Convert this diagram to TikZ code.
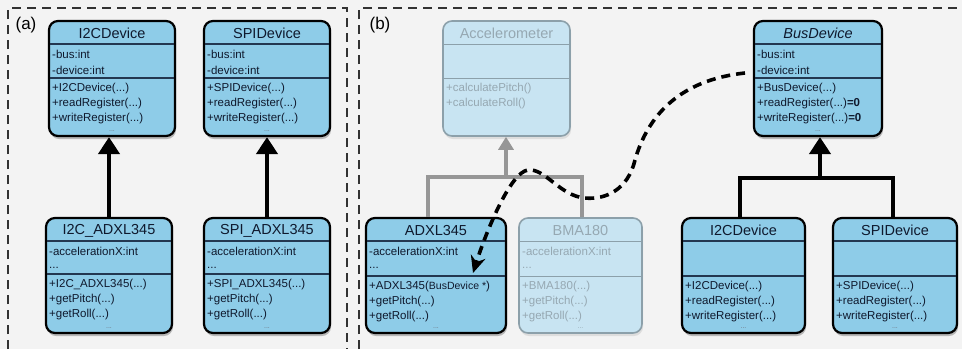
\documentclass[tikz,border=0pt]{standalone}
\usepackage{fontspec}
\setmainfont{Liberation Sans}
\usetikzlibrary{arrows.meta,shadows,fit}
\definecolor{bgcol}{RGB}{243,243,243}
\definecolor{boxblue}{RGB}{142,204,232}
\definecolor{fadeblue}{RGB}{200,228,242}
\definecolor{fadeedge}{RGB}{140,160,170}
\definecolor{fadetxt}{RGB}{150,168,178}
\definecolor{sepcol}{RGB}{35,55,80}
\definecolor{txtcol}{RGB}{15,25,45}
\definecolor{framecol}{RGB}{50,50,50}
\definecolor{graylink}{RGB}{150,150,150}
\newcommand\dd{.\kern0pt.\kern0pt.}
\tikzset{
 box/.style={draw=black, line width=2.2pt, rounded corners=9pt, fill=boxblue, inner sep=0pt,
   drop shadow={shadow xshift=1pt, shadow yshift=-3pt, opacity=0.35, fill=black!70}},
 sepline/.style={draw=sepcol, line width=1.3pt},
 titletext/.style={font=\fontsize{14.5}{16}\selectfont, text=txtcol, inner sep=0pt},
 linetext/.style={font=\fontsize{11.5}{13}\selectfont, text=txtcol, anchor=west, inner sep=0pt},
 dotstext/.style={font=\fontsize{7}{8}\selectfont, text=txtcol!60, inner sep=0pt},
 lbl/.style={font=\fontsize{17}{19}\selectfont, text=black, inner sep=0pt},
 frame/.style={draw=framecol, line width=1.8pt, dash pattern=on 9pt off 6pt},
 blacklink/.style={draw=black, line width=4.5pt, -{Triangle[length=17pt,width=21pt]}},
 blackbar/.style={draw=black, line width=4.5pt},
 graylinkarrow/.style={draw=graylink, line width=4.5pt, -{Triangle[length=13pt,width=15pt]}},
 graybar/.style={draw=graylink, line width=4.5pt},
 dep/.style={draw=black, line width=3.6pt, dash pattern=on 9pt off 6pt, -{Stealth[length=17pt,width=15pt]}},
}
% #1 name, #2 x1, #3 y1, #4 x2, #5 y2, #6 separator y, #7 title, #8 attributes, #9 methods
\newcommand\umlclass[9]{%
  \coordinate (#1-nw) at (#2,#3);
  \coordinate (#1-se) at (#4,#5);
  \node[box, fit=(#1-nw)(#1-se)] (#1) {};
  \node[titletext] (#1-t) at ({(#2+#4)/2},{#3+12.5}) {#7};
  \draw[sepline] ({#2+1},{#3+23}) -- ({#4-1},{#3+23});
  \draw[sepline] ({#2+1},#6) -- ({#4-1},#6);
  \if\relax\detokenize{#8}\relax\else
  \foreach \txt [count=\i] in {#8} {\node[linetext] (#1-a\i) at ({#2+3},{#3+33+(\i-1)*16.5}) {\txt};}
  \fi
  \foreach \txt [count=\i] in {#9} {\node[linetext] (#1-m\i) at ({#2+3},{#6+11+(\i-1)*14.6}) {\txt};}
}
\newcommand\umldots[1]{\node[dotstext, anchor=south] (#1-d) at ([yshift=5pt]#1.south) {\dd};}
\begin{document}
\begin{tikzpicture}[x=1pt,y=-1pt]
\fill[bgcol] (0,0) rectangle (962,349);
\useasboundingbox (0,0) rectangle (962,349);
% frames
\draw[frame] (8,349) -- (8,8) -- (347,8) -- (347,349);
\draw[frame] (359,349) -- (359,8) -- (962,8);
\node[lbl] (la) at (26,25) {(a)};
\node[lbl] (lb) at (380,25) {(b)};

% ---------- panel (a)
\umlclass{ai2c}{49}{21}{175}{136}{78}{I2CDevice}{{-bus:int},{-device:int}}{{+I2CDevice(\dd)},{+readRegister(\dd)},{+writeRegister(\dd)}}
\umldots{ai2c}
\umlclass{aspi}{204}{21}{330}{136}{78}{SPIDevice}{{-bus:int},{-device:int}}{{+SPIDevice(\dd)},{+readRegister(\dd)},{+writeRegister(\dd)}}
\umldots{aspi}
\umlclass{aiadxl}{46}{218}{172}{333}{274}{I2C\_ADXL345}{{-accelerationX:int},{\dd}}{{+I2C\_ADXL345(\dd)},{+getPitch(\dd)},{+getRoll(\dd)}}
\umldots{aiadxl}
\umlclass{asadxl}{204}{218}{330}{333}{274}{SPI\_ADXL345}{{-accelerationX:int},{\dd}}{{+SPI\_ADXL345(\dd)},{+getPitch(\dd)},{+getRoll(\dd)}}
\umldots{asadxl}
\draw[blacklink] (aiadxl.north) -- (aiadxl.north |- ai2c.south);
\draw[blacklink] (asadxl.north) -- (asadxl.north |- aspi.south);

% ---------- panel (b)
\begin{scope}[box/.style={draw=fadeedge, line width=1.6pt, rounded corners=9pt, fill=fadeblue, inner sep=0pt,
   drop shadow={shadow xshift=1pt, shadow yshift=-3pt, opacity=0.15, fill=black!60}},
  sepline/.style={draw=fadeedge, line width=1pt},
  titletext/.append style={text=fadetxt},
  linetext/.append style={text=fadetxt},
  dotstext/.append style={text=fadetxt}]
\umlclass{accel}{443}{21}{570}{136}{78}{Accelerometer}{}{{+calculatePitch()},{+calculateRoll()}}
\umlclass{bma}{519}{218}{642}{333}{276}{BMA180}{{-accelerationX:int},{\dd}}{{+BMA180(\dd)},{+getPitch(\dd)},{+getRoll(\dd)}}
\umldots{bma}
\end{scope}
\umlclass{busdev}{754}{21}{882}{136}{78}{\textit{BusDevice}}{{-bus:int},{-device:int}}{{+BusDevice(\dd)},{+readRegister(\dd)\textbf{=0}},{+writeRegister(\dd)\textbf{=0}}}
\umldots{busdev}
\umlclass{adxl}{366}{218}{506}{333}{276}{ADXL345}{{-accelerationX:int},{\dd}}{{+ADXL345({\fontsize{10.5}{12}\selectfont BusDevice *})},{+getPitch(\dd)},{+getRoll(\dd)}}
\umldots{adxl}
\umlclass{bi2c}{682}{218}{805}{333}{276}{I2CDevice}{}{{+I2CDevice(\dd)},{+readRegister(\dd)},{+writeRegister(\dd)}}
\umldots{bi2c}
\umlclass{bspi}{833}{218}{957}{333}{276}{SPIDevice}{}{{+SPIDevice(\dd)},{+readRegister(\dd)},{+writeRegister(\dd)}}
\umldots{bspi}

% gray generalization
\coordinate (gl) at (428,177);
\coordinate (gr) at (582,177);
\coordinate (gj) at (506,177);
\draw[graybar] (adxl.north -| gl) -- (gl) -- (gr) -- (bma.north -| gr);
\draw[graylinkarrow] (gj) -- (accel.south -| gj);

% black generalization
\coordinate (kl) at (740,178);
\coordinate (kr) at (893,178);
\coordinate (kj) at (820,178);
\draw[blackbar] (bi2c.north -| kl) -- (kl) -- (kr) -- (bspi.north -| kr);
\draw[blacklink] (kj) -- (busdev.south -| kj);

% dependency
\coordinate (ds) at (745,73);
\coordinate (de) at (473,273);
\draw[dep] (ds) .. controls (680,80) and (648,115) .. (635,160)
  .. controls (628,190) and (605,200) .. (585,198)
  .. controls (560,196) and (545,168) .. (528,170)
  .. controls (510,172) and (485,235) .. (de);
\end{tikzpicture}
\end{document}
